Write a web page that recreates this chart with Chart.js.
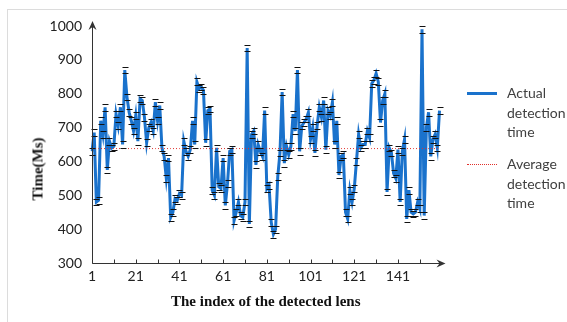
<!DOCTYPE html>
<html>
<head>
<meta charset="utf-8">
<script src="https://cdn.jsdelivr.net/npm/chart.js@4"></script>
<style>
  html, body { margin: 0; padding: 0; background: #fff; }
  #wrap { position: relative; width: 567px; height: 322px; overflow: hidden; }
  #frame { position: absolute; left: 7px; top: 9px; width: 620px; height: 400px;
           border-left: 1px solid #dcdcdc; border-top: 1px solid #dcdcdc; }
  #chart { position: absolute; left: 0; top: 0; }
  #ytitle { position: absolute; left: 37.5px; top: 169px; transform: translate(-50%, -50%) rotate(-90deg);
            font: bold 15px "Liberation Serif", serif; color: #111; white-space: nowrap; }
  .leg { position: absolute; left: 507px; font: 14px Lato, sans-serif; color: #404040; line-height: 19.5px; }
  .swatch { position: absolute; left: 467px; width: 30px; }
</style>
</head>
<body>
<div id="wrap">
  <div id="frame"></div>
  <canvas id="chart" width="567" height="322"></canvas>
  <div id="ytitle">Time(Ms)</div>
  <div class="swatch" style="top:92px; border-top: 3px solid #1a72cc;"></div>
  <div class="leg" style="top:83px;">Actual<br>detection<br>time</div>
  <div class="swatch" style="top:164px; border-top: 1px dotted #e0302c;"></div>
  <div class="leg" style="top:154px;">Average<br>detection<br>time</div>
</div>
<script>
// detection time per lens (ms)
const lensIndex = Array.from({ length: 160 }, (_, i) => i + 1);
const actualTime = [
  630, 685, 480, 485, 720, 680, 760, 575, 660, 640,
  645, 740, 705, 760, 650, 870, 790, 745, 720, 690,
  735, 660, 785, 780, 730, 655, 700, 715, 690, 775,
  720, 765, 640, 615, 550, 610, 435, 450, 490, 485,
  505, 500, 660, 630, 615, 635, 720, 650, 835, 815,
  820, 810, 655, 750, 755, 515, 500, 640, 525, 520,
  610, 470, 535, 630, 635, 425, 450, 480, 440, 435,
  480, 935, 415, 680, 690, 590, 650, 630, 615, 750,
  520, 530, 420, 385, 400, 555, 625, 805, 595, 645,
  620, 645, 740, 690, 870, 630, 705, 715, 725, 745,
  665, 700, 625, 705, 760, 730, 780, 635, 750, 735,
  775, 650, 720, 560, 615, 620, 450, 430, 515, 480,
  520, 600, 680, 640, 650, 650, 690, 670, 830, 840,
  860, 835, 715, 780, 800, 510, 640, 625, 565, 550,
  635, 480, 630, 665, 430, 515, 450, 445, 450, 480,
  460, 990, 440, 700, 745, 615, 665, 680, 640, 750
];
const avgTime = 638;
const errorMs = 10;
const yTicks = [300, 400, 500, 600, 700, 800, 900, 1000];

const tickFont = { family: 'Lato', size: 14 };

// black error bars with caps
const errorBars = {
  id: 'errorBars',
  afterDatasetsDraw(chart) {
    const { ctx, scales: { x, y } } = chart;
    ctx.save();
    ctx.strokeStyle = '#111';
    ctx.lineWidth = 1;
    ctx.beginPath();
    actualTime.forEach((v, i) => {
      const px = Math.round(x.getPixelForValue(i)) + 0.5;
      const top = Math.round(y.getPixelForValue(v + errorMs)) + 0.5;
      const bot = Math.round(y.getPixelForValue(v - errorMs)) + 0.5;
      ctx.moveTo(px - 3, top); ctx.lineTo(px + 3, top);
      ctx.moveTo(px - 3, bot); ctx.lineTo(px + 3, bot);
    });
    ctx.stroke();
    ctx.restore();
  }
};

// axes with arrow heads and small inward ticks every 10
const arrowAxes = {
  id: 'arrowAxes',
  afterDraw(chart) {
    const { ctx, chartArea: a, scales: { x } } = chart;
    const L = Math.round(a.left) + 0.5, B = Math.round(a.bottom) + 0.5;
    ctx.save();
    ctx.strokeStyle = '#333';
    ctx.fillStyle = '#333';
    ctx.lineWidth = 1;
    ctx.beginPath();
    ctx.moveTo(L, B); ctx.lineTo(L, a.top - 3);
    ctx.moveTo(L, B); ctx.lineTo(a.right + 4, B);
    lensIndex.forEach((n, i) => {
      if ((n - 1) % 10 === 0) {
        const px = Math.round(x.getPixelForValue(i)) + 0.5;
        ctx.moveTo(px, B); ctx.lineTo(px, B - 4);
      }
    });
    ctx.stroke();
    // arrow heads
    ctx.beginPath();
    ctx.moveTo(L, a.top - 5); ctx.lineTo(L - 4, a.top + 4); ctx.lineTo(L, a.top + 1); ctx.lineTo(L + 4, a.top + 4);
    ctx.closePath(); ctx.fill();
    ctx.beginPath();
    ctx.moveTo(a.right + 6, B); ctx.lineTo(a.right - 3, B - 4); ctx.lineTo(a.right, B); ctx.lineTo(a.right - 3, B + 4);
    ctx.closePath(); ctx.fill();
    ctx.restore();
  }
};

new Chart(document.getElementById('chart').getContext('2d'), {
  type: 'line',
  data: {
    labels: lensIndex,
    datasets: [
      { label: 'Actual detection time', data: actualTime, borderColor: '#1a72cc', borderWidth: 3,
        pointRadius: 0, tension: 0, order: 1 },
      { label: 'Average detection time', data: lensIndex.map(() => avgTime), borderColor: '#e0302c',
        borderWidth: 1, borderDash: [1, 2], pointRadius: 0, order: 0 }
    ]
  },
  options: {
    responsive: false,
    animation: false,
    layout: { padding: { top: 26, right: 127.5, left: 0, bottom: 0 } },
    plugins: { legend: { display: false }, tooltip: { enabled: false } },
    scales: {
      x: {
        type: 'category', offset: false,
        grid: { display: false, drawTicks: false }, border: { display: false },
        ticks: { autoSkip: false, maxRotation: 0, padding: 5, font: tickFont, color: '#222',
                 callback: (v, i) => (i % 20 === 0 ? lensIndex[i] : '') },
        title: { display: true, text: 'The index of the detected lens', color: '#111',
                 font: { family: 'Liberation Serif', size: 15, weight: 'bold' }, padding: { top: 0, bottom: 11 } },
        afterFit: s => { s.height = 59; }
      },
      y: {
        min: yTicks[0], max: yTicks[yTicks.length - 1],
        grid: { display: false, drawTicks: false }, border: { display: false },
        ticks: { stepSize: 100, padding: 10, font: tickFont, color: '#222', callback: v => String(v) },
        afterFit: s => { s.width = 92; }
      }
    }
  },
  plugins: [errorBars, arrowAxes]
});
</script>
</body>
</html>
